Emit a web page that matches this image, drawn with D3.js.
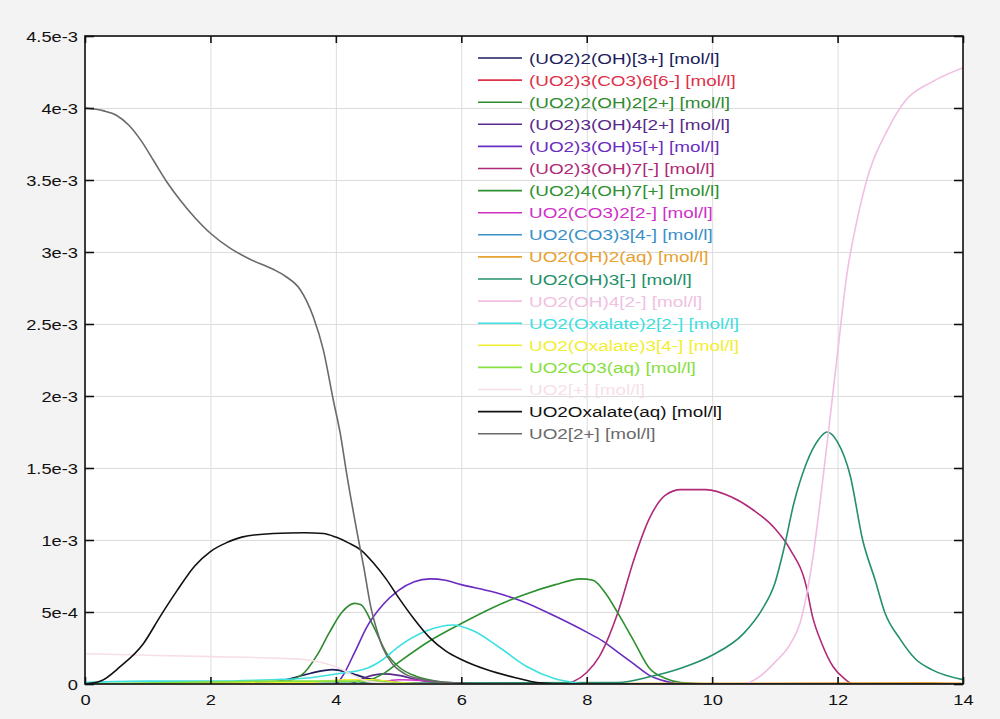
<!DOCTYPE html>
<html><head><meta charset="utf-8">
<script src="https://cdn.jsdelivr.net/npm/d3@7"></script>
<style>body{margin:0;background:#f3f3f3;} svg{display:block}</style>
</head><body><svg id="c" width="1000" height="719"></svg>
<script>
// ---- axis ticks (concentration in mmol/l; labels in mol/l) ----
const xTicks = [0, 2, 4, 6, 8, 10, 12, 14];
const xTickLabels = ["0", "2", "4", "6", "8", "10", "12", "14"];
const yTicks = [0, 0.5, 1, 1.5, 2, 2.5, 3, 3.5, 4, 4.5];
const yTickLabels = ["0", "5e-4", "1e-3", "1.5e-3", "2e-3", "2.5e-3", "3e-3", "3.5e-3", "4e-3", "4.5e-3"];

// ---- series names ----
const seriesNames = [
  "(UO2)2(OH)[3+] [mol/l]", "(UO2)3(CO3)6[6-] [mol/l]", "(UO2)2(OH)2[2+] [mol/l]",
  "(UO2)3(OH)4[2+] [mol/l]", "(UO2)3(OH)5[+] [mol/l]", "(UO2)3(OH)7[-] [mol/l]",
  "(UO2)4(OH)7[+] [mol/l]", "UO2(CO3)2[2-] [mol/l]", "UO2(CO3)3[4-] [mol/l]",
  "UO2(OH)2(aq) [mol/l]", "UO2(OH)3[-] [mol/l]", "UO2(OH)4[2-] [mol/l]",
  "UO2(Oxalate)2[2-] [mol/l]", "UO2(Oxalate)3[4-] [mol/l]", "UO2CO3(aq) [mol/l]",
  "UO2[+] [mol/l]", "UO2Oxalate(aq) [mol/l]", "UO2[2+] [mol/l]"
];
const seriesColors = [
  "#1c1c5c", "#e0304a", "#2f8a2f", "#5a2a8a", "#6a2cc0", "#b02a78",
  "#2e9030", "#d030c8", "#3a8fc8", "#e8a030", "#23906a", "#f0bfe2",
  "#3ee0e0", "#f2ee30", "#86e040", "#f7dfe8", "#111111", "#6a6a6a"
];

// ---- series values: [pH, concentration in mmol/l] ----
const s_UO2_2_OH_3p = [[0,0],[2.5,0.005],[3.0,0.015],[3.3,0.04],[3.6,0.075],[3.95,0.1],[4.2,0.08],[4.5,0.04],[5.0,0.01],[5.5,0],[14,0]];
const s_UO2_3_CO3_6 = [[0,0],[14,0]];
const s_UO2_2_OH_2 = [[0,0],[3.0,0.005],[3.3,0.03],[3.5,0.08],[3.7,0.2],[3.9,0.36],[4.1,0.5],[4.3,0.56],[4.4,0.55],[4.6,0.4],[4.8,0.22],[5.0,0.12],[5.3,0.05],[5.6,0.02],[6.0,0.005],[6.5,0],[14,0]];
const s_UO2_3_OH_4 = [[0,0],[4.2,0],[4.5,0.05],[4.75,0.07],[5.0,0.06],[5.3,0.03],[5.6,0.01],[6.0,0],[14,0]];
const s_UO2_3_OH_5 = [[0,0],[4.0,0],[4.1,0.05],[4.3,0.22],[4.5,0.4],[4.75,0.55],[5.0,0.65],[5.25,0.71],[5.5,0.73],[5.75,0.72],[6.0,0.69],[6.5,0.64],[7.0,0.57],[7.5,0.47],[8.0,0.36],[8.25,0.3],[8.5,0.22],[8.75,0.14],[9.0,0.06],[9.25,0.02],[9.5,0],[14,0]];
const s_UO2_3_OH_7 = [[0,0],[7.6,0],[7.8,0.02],[8.0,0.08],[8.2,0.19],[8.5,0.5],[8.75,0.86],[9.0,1.15],[9.25,1.31],[9.5,1.35],[9.9,1.35],[10.3,1.3],[10.65,1.21],[11.0,1.08],[11.25,0.93],[11.5,0.68],[11.6,0.47],[11.75,0.28],[11.93,0.12],[12.1,0.04],[12.25,0],[14,0]];
const s_UO2_4_OH_7 = [[0,0],[4.3,0],[4.5,0.02],[4.75,0.07],[5.0,0.15],[5.5,0.3],[6.0,0.42],[6.5,0.53],[7.0,0.62],[7.5,0.69],[7.9,0.73],[8.1,0.72],[8.3,0.63],[8.5,0.49],[8.75,0.3],[9.0,0.11],[9.25,0.04],[9.5,0.01],[10,0],[14,0]];
const s_UO2_CO3_2 = [[0,0],[4.5,0],[5.0,0.03],[5.5,0.02],[6.0,0],[14,0]];
const s_UO2_CO3_3 = [[0,0],[14,0]];
const s_UO2_OH_2 = [[0,0],[10.5,0.004],[13.5,0.008],[14,0.004]];
const s_UO2_OH_3 = [[0,0],[8.5,0.01],[9.0,0.05],[9.5,0.11],[10.0,0.2],[10.5,0.35],[10.8,0.52],[11.0,0.7],[11.15,0.95],[11.3,1.25],[11.5,1.53],[11.7,1.7],[11.83,1.75],[12.0,1.68],[12.2,1.45],[12.4,1.0],[12.6,0.72],[12.75,0.5],[13.0,0.31],[13.25,0.17],[13.5,0.1],[14,0.03]];
const s_UO2_OH_4 = [[0,0],[10.5,0],[10.75,0.05],[11.0,0.15],[11.25,0.28],[11.4,0.42],[11.6,0.86],[11.8,1.55],[12.0,2.3],[12.15,2.85],[12.3,3.2],[12.5,3.55],[12.8,3.85],[13.1,4.06],[13.5,4.18],[14,4.28]];
const s_UO2_Ox_2 = [[0,0.01],[1,0.02],[2,0.02],[3,0.03],[3.5,0.04],[4.0,0.07],[4.5,0.11],[4.75,0.17],[5.0,0.26],[5.45,0.37],[5.87,0.41],[6.19,0.37],[6.62,0.25],[7.05,0.12],[7.47,0.04],[7.8,0.01],[8.0,0],[14,0]];
const s_UO2_Ox_3 = [[0,0],[3.5,0.01],[4.2,0.03],[4.6,0.03],[5.0,0.01],[5.5,0],[14,0]];
const s_UO2CO3 = [[0,0],[1.4,0.01],[2,0.015],[3,0.02],[4,0.02],[4.6,0.02],[5,0.005],[5.5,0],[14,0]];
const s_UO2_p = [[0,0.21],[1,0.2],[2,0.19],[3,0.18],[3.5,0.17],[4.0,0.12],[4.5,0.02],[5.0,0],[14,0]];
const s_UO2Ox = [[0,0],[0.25,0.02],[0.56,0.12],[0.93,0.28],[1.2,0.47],[1.47,0.65],[1.75,0.82],[2.0,0.92],[2.25,0.98],[2.5,1.02],[3.0,1.045],[3.5,1.05],[3.8,1.045],[4.0,1.02],[4.2,0.98],[4.4,0.93],[4.6,0.84],[4.8,0.73],[5.0,0.6],[5.25,0.45],[5.5,0.32],[5.75,0.23],[6.0,0.17],[6.4,0.1],[6.9,0.04],[7.2,0.01],[7.6,0],[14,0]];
const s_UO2_2p = [[0,4.0],[0.3,3.98],[0.5,3.95],[0.7,3.88],[0.9,3.77],[1.1,3.63],[1.3,3.49],[1.5,3.37],[1.75,3.24],[2.0,3.13],[2.3,3.03],[2.63,2.95],[3.0,2.88],[3.2,2.83],[3.43,2.74],[3.64,2.55],[3.8,2.32],[3.96,1.97],[4.07,1.74],[4.18,1.44],[4.34,1.05],[4.45,0.8],[4.55,0.55],[4.65,0.38],[4.75,0.25],[4.9,0.14],[5.1,0.07],[5.4,0.03],[5.8,0.01],[6.5,0],[14,0]];

const seriesValues = [
  s_UO2_2_OH_3p, s_UO2_3_CO3_6, s_UO2_2_OH_2, s_UO2_3_OH_4, s_UO2_3_OH_5, s_UO2_3_OH_7,
  s_UO2_4_OH_7, s_UO2_CO3_2, s_UO2_CO3_3, s_UO2_OH_2, s_UO2_OH_3, s_UO2_OH_4,
  s_UO2_Ox_2, s_UO2_Ox_3, s_UO2CO3, s_UO2_p, s_UO2Ox, s_UO2_2p
];

// ---- layout ----
const L = 85, R = 963, T = 36, B = 684;
const svg = d3.select("#c");
const x = d3.scaleLinear().domain([0, 14]).range([L, R]);
const y = d3.scaleLinear().domain([0, 4.5]).range([B, T]);
const FONT = "'Liberation Sans', Arial, Helvetica, sans-serif";

svg.append("rect").attr("x", L).attr("y", T).attr("width", R - L).attr("height", B - T).attr("fill", "#fff");

// grid
svg.append("g").attr("transform", `translate(0,${B})`)
  .call(d3.axisBottom(x).tickValues(xTicks).tickSize(-(B - T)).tickFormat(""))
  .call(g => { g.select(".domain").remove(); g.selectAll("line").attr("stroke", "#dcdcdc").attr("stroke-width", 1); });
svg.append("g").attr("transform", `translate(${L},0)`)
  .call(d3.axisLeft(y).tickValues(yTicks).tickSize(-(R - L)).tickFormat(""))
  .call(g => { g.select(".domain").remove(); g.selectAll("line").attr("stroke", "#dcdcdc").attr("stroke-width", 1); });

// curves
const line = d3.line().x(d => x(d[0])).y(d => y(d[1])).curve(d3.curveMonotoneX);
svg.append("clipPath").attr("id", "pc").append("rect")
  .attr("x", L).attr("y", T).attr("width", R - L).attr("height", B - T);
svg.append("g").attr("clip-path", "url(#pc)")
  .selectAll("path").data(seriesValues).join("path")
  .attr("d", line).attr("fill", "none")
  .attr("stroke", (d, i) => seriesColors[i]).attr("stroke-width", 1.6)
  .attr("stroke-linejoin", "round");

// frame
svg.append("rect").attr("x", L).attr("y", T).attr("width", R - L).attr("height", B - T)
  .attr("fill", "none").attr("stroke", "#111").attr("stroke-width", 1.6);

// inward ticks on all four sides
const tickStyle = g => { g.select(".domain").remove(); g.selectAll("line").attr("stroke", "#111").attr("stroke-width", 1.6); };
svg.append("g").attr("transform", `translate(0,${B})`).call(d3.axisBottom(x).tickValues(xTicks).tickSize(-7).tickFormat("")).call(tickStyle);
svg.append("g").attr("transform", `translate(0,${T})`).call(d3.axisTop(x).tickValues(xTicks).tickSize(-7).tickFormat("")).call(tickStyle);
svg.append("g").attr("transform", `translate(${L},0)`).call(d3.axisLeft(y).tickValues(yTicks).tickSize(-9).tickFormat("")).call(tickStyle);
svg.append("g").attr("transform", `translate(${R},0)`).call(d3.axisRight(y).tickValues(yTicks).tickSize(-9).tickFormat("")).call(tickStyle);

// tick labels (text is horizontally wide in the reference)
const SX = 1.18;
const xAx = svg.append("g").attr("transform", `translate(0,${B})`)
  .call(d3.axisBottom(x).tickValues(xTicks).tickSize(0).tickPadding(0).tickFormat((d, i) => xTickLabels[i]));
xAx.select(".domain").remove();
xAx.selectAll("text").attr("y", 21).attr("dy", null).attr("font-family", FONT).attr("font-size", 15.5)
  .attr("fill", "#111").attr("transform", `scale(${SX},1)`);
const yAx = svg.append("g").attr("transform", `translate(${L},0)`)
  .call(d3.axisLeft(y).tickValues(yTicks).tickSize(0).tickPadding(0).tickFormat((d, i) => yTickLabels[i]));
yAx.select(".domain").remove();
yAx.selectAll("text").attr("x", -7 / SX).attr("dy", "0.36em").attr("font-family", FONT).attr("font-size", 15.5)
  .attr("fill", "#111").attr("transform", `scale(${SX},1)`);

// legend
const LX0 = 478, LX1 = 522, LY0 = 58, LDY = 22.1, LSX = 1.22;
const leg = svg.append("g").selectAll("g").data(seriesNames).join("g")
  .attr("transform", (d, i) => `translate(0,${LY0 + i * LDY})`);
leg.append("line").attr("x1", LX0).attr("x2", LX1).attr("y1", 0).attr("y2", 0)
  .attr("stroke", (d, i) => seriesColors[i]).attr("stroke-width", 1.6);
leg.append("text").attr("transform", `translate(${LX1 + 7},0) scale(${LSX},1)`)
  .attr("dy", "0.36em").attr("font-family", FONT).attr("font-size", 15.5)
  .attr("fill", (d, i) => seriesColors[i]).text(d => d);
</script>
</body></html>
